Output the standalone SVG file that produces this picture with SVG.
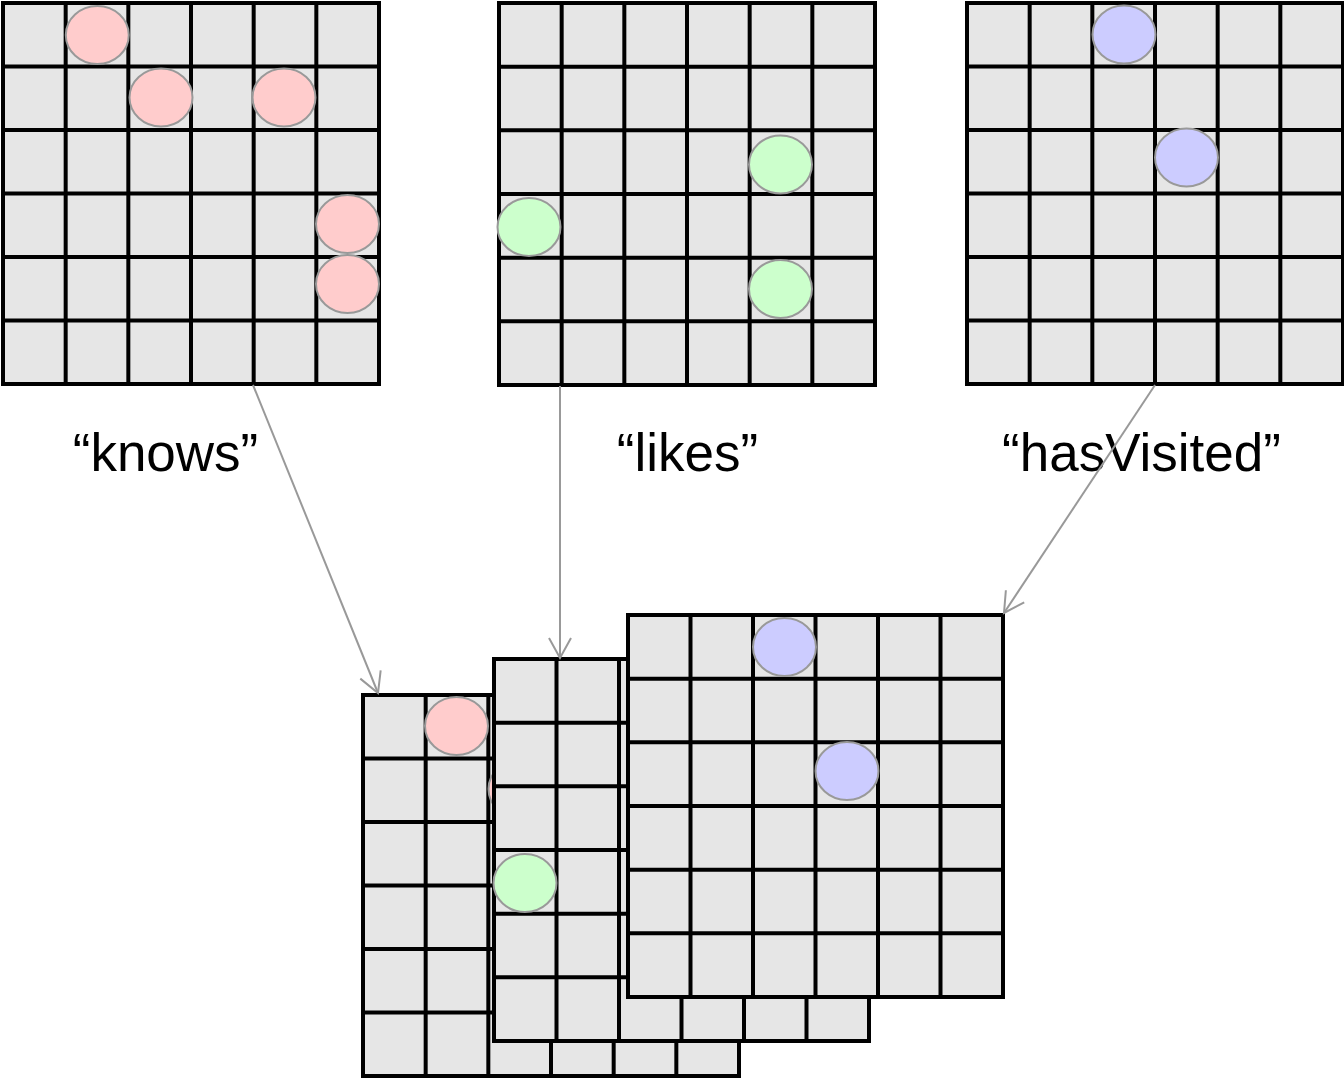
<svg xmlns="http://www.w3.org/2000/svg" width="1344" height="1081" viewBox="0 0 1344 1081">
<style>
.bg{fill:#e6e6e6;stroke:none}
.ln{fill:none;stroke:#000;stroke-width:4}
.k{fill:#ffcccc;stroke:#999;stroke-width:2}
.l{fill:#ccffcc;stroke:#999;stroke-width:2}
.h{fill:#ccccff;stroke:#999;stroke-width:2}
.lbl{font-family:"Liberation Sans",Arial,sans-serif;font-size:53px;fill:#000;text-anchor:middle}
.con{fill:none;stroke:#999;stroke-width:2}
</style>
<defs>
<marker id="ah" markerUnits="userSpaceOnUse" markerWidth="30" markerHeight="30" viewBox="-25 -15 30 30" refX="0" refY="0" orient="auto">
<path d="M-20,-11 L0,0 L-20,11" fill="none" stroke="#999" stroke-width="2"/>
</marker>
</defs>
<rect width="1344" height="1081" fill="#fff"/>

<g id="knows-matrix">
<rect class="bg" x="3" y="3" width="376" height="381"/>
<path class="ln" d="M65.67,3V384M128.33,3V384M191,3V384M253.67,3V384M316.33,3V384M3,66.5H379M3,130H379M3,193.5H379M3,257H379M3,320.5H379"/>
<rect class="ln" x="3" y="3" width="376" height="381"/>
<ellipse class="k" cx="97.3" cy="35" rx="31.5" ry="29"/>
<ellipse class="k" cx="161" cy="97.5" rx="31.5" ry="29"/>
<ellipse class="k" cx="284" cy="97.5" rx="31.5" ry="29"/>
<ellipse class="k" cx="347.5" cy="224" rx="31.5" ry="29"/>
<ellipse class="k" cx="347.5" cy="284" rx="31.5" ry="29"/>
</g>

<g id="likes-matrix">
<rect class="bg" x="499" y="3" width="376" height="382"/>
<path class="ln" d="M561.67,3V385M624.33,3V385M687,3V385M749.67,3V385M812.33,3V385M499,66.67H875M499,130.33H875M499,194H875M499,257.67H875M499,321.33H875"/>
<rect class="ln" x="499" y="3" width="376" height="382"/>
<ellipse class="l" cx="780.5" cy="164.5" rx="31.5" ry="29"/>
<ellipse class="l" cx="529" cy="227" rx="31.5" ry="29"/>
<ellipse class="l" cx="780.5" cy="289" rx="31.5" ry="29"/>
</g>

<g id="hasVisited-matrix">
<rect class="bg" x="967" y="3" width="376" height="381"/>
<path class="ln" d="M1029.67,3V384M1092.33,3V384M1155,3V384M1217.67,3V384M1280.33,3V384M967,66.5H1343M967,130H1343M967,193.5H1343M967,257H1343M967,320.5H1343"/>
<rect class="ln" x="967" y="3" width="376" height="381"/>
<ellipse class="h" cx="1124" cy="34.5" rx="31.5" ry="29"/>
<ellipse class="h" cx="1186.5" cy="157.5" rx="31.5" ry="29"/>
</g>

<g id="label-knows"><text class="lbl" x="165.5" y="471">“knows”</text></g>
<g id="label-likes"><text class="lbl" x="687.5" y="471">“likes”</text></g>
<g id="label-hasVisited"><text class="lbl" x="1141.5" y="471">“hasVisited”</text></g>

<g id="tensor-knows">
<rect class="bg" x="363" y="695" width="376" height="381"/>
<path class="ln" d="M425.67,695V1076M488.33,695V1076M551,695V1076M613.67,695V1076M676.33,695V1076M363,758.5H739M363,822H739M363,885.5H739M363,949H739M363,1012.5H739"/>
<rect class="ln" x="363" y="695" width="376" height="381"/>
<ellipse class="k" cx="456.5" cy="726" rx="31.5" ry="29"/>
<ellipse class="k" cx="520" cy="789" rx="31.5" ry="29"/>
<ellipse class="k" cx="645" cy="789" rx="31.5" ry="29"/>
<ellipse class="k" cx="707.5" cy="916" rx="31.5" ry="29"/>
<ellipse class="k" cx="707.5" cy="976" rx="31.5" ry="29"/>
</g>

<g id="tensor-likes">
<rect class="bg" x="494" y="659" width="375" height="382"/>
<path class="ln" d="M556.5,659V1041M619,659V1041M681.5,659V1041M744,659V1041M806.5,659V1041M494,722.67H869M494,786.33H869M494,850H869M494,913.67H869M494,977.33H869"/>
<rect class="ln" x="494" y="659" width="375" height="382"/>
<ellipse class="l" cx="775" cy="820" rx="31.5" ry="29"/>
<ellipse class="l" cx="525" cy="883" rx="31.5" ry="29"/>
<ellipse class="l" cx="775" cy="945" rx="31.5" ry="29"/>
</g>

<g id="tensor-hasVisited">
<rect class="bg" x="628" y="615" width="375" height="382"/>
<path class="ln" d="M690.5,615V997M753,615V997M815.5,615V997M878,615V997M940.5,615V997M628,678.67H1003M628,742.33H1003M628,806H1003M628,869.67H1003M628,933.33H1003"/>
<rect class="ln" x="628" y="615" width="375" height="382"/>
<ellipse class="h" cx="784.5" cy="647" rx="31.5" ry="29"/>
<ellipse class="h" cx="847" cy="771" rx="31.5" ry="29"/>
</g>

<g id="connectors">
<line class="con" x1="253" y1="385" x2="378" y2="693" marker-end="url(#ah)"/>
<line class="con" x1="560" y1="386" x2="560" y2="658" marker-end="url(#ah)"/>
<line class="con" x1="1155" y1="385" x2="1004" y2="613" marker-end="url(#ah)"/>
</g>
</svg>
